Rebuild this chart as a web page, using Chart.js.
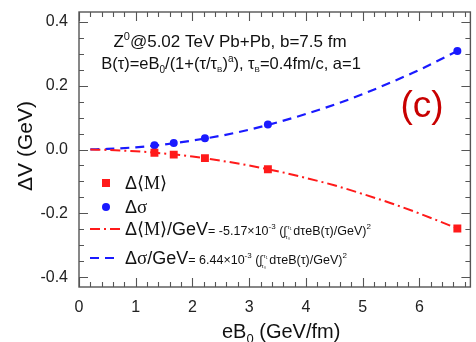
<!DOCTYPE html>
<html>
<head>
<meta charset="utf-8">
<script src="https://cdn.jsdelivr.net/npm/chart.js@4"></script>
<style>
html,body{margin:0;padding:0;background:#fff;}
#c{display:block;}
</style>
</head>
<body>
<canvas id="c" width="476" height="342"></canvas>
<script>
// ---- data ----
const eB0 = [1.33, 1.67, 2.22, 3.33, 6.67];
const deltaM = [-0.010, -0.016, -0.027, -0.062, -0.247];
const deltaSigma = [0.013, 0.020, 0.035, 0.078, 0.308];
const fitX = [0.2, 0.5, 1, 1.5, 2, 2.5, 3, 3.5, 4, 4.5, 5, 5.5, 6, 6.67];
const fitM = [-0.0002, -0.0014, -0.0056, -0.0125, -0.022, -0.035, -0.050, -0.068, -0.089, -0.112, -0.139, -0.168, -0.200, -0.247];
const fitSigma = [0.0003, 0.0017, 0.0069, 0.0156, 0.028, 0.043, 0.062, 0.085, 0.111, 0.140, 0.173, 0.210, 0.249, 0.308];
const xTicks = [0, 1, 2, 3, 4, 5, 6];
const yTicks = [-0.4, -0.2, 0.0, 0.2, 0.4];

const RED = '#ff1a1a';
const BLUE = '#1a1aff';
const SANS = '"Liberation Sans", Arial, sans-serif';
const SERIF = '"Liberation Serif", "DejaVu Serif", serif';

function pts(xs, ys) { return xs.map((x, i) => ({x: x, y: ys[i]})); }

function rich(ctx, x, y, segs, align, color) {
  let w = 0;
  for (const s of segs) {
    ctx.font = (s.b ? 'bold ' : '') + s.f + 'px ' + (s.fam || SANS);
    s.w = ctx.measureText(s.t).width;
    if (!s.noadv) w += s.w;
  }
  let cx = align === 'center' ? x - w / 2 : x;
  ctx.textBaseline = 'alphabetic';
  ctx.textAlign = 'left';
  for (const s of segs) {
    ctx.font = (s.b ? 'bold ' : '') + s.f + 'px ' + (s.fam || SANS);
    ctx.fillStyle = s.c || color || '#111';
    ctx.fillText(s.t, cx + (s.dx || 0), y + (s.dy || 0));
    if (!s.noadv) cx += s.w;
  }
  return w;
}

const decor = {
  id: 'decor',
  afterDraw(chart) {
    const ctx = chart.ctx;
    const xs = chart.scales.x, ys = chart.scales.y;
    const left = xs.left, right = xs.right, top = ys.top, bottom = ys.bottom;
    ctx.save();
    // frame
    ctx.strokeStyle = '#555';
    ctx.lineWidth = 1.4;
    ctx.strokeRect(left, top, right - left, bottom - top);
    // inward ticks
    ctx.lineWidth = 1.1;
    ctx.beginPath();
    for (let i = 0; i <= 35; i++) {
      const v = i * 0.2;
      const px = Math.round(xs.getPixelForValue(v)) + 0.5;
      if (px > right - 1) break;
      const len = (i % 5 === 0) ? 9 : 5;
      ctx.moveTo(px, bottom); ctx.lineTo(px, bottom - len);
      ctx.moveTo(px, top); ctx.lineTo(px, top + len);
    }
    for (let i = -8; i <= 8; i++) {
      const v = i * 0.05;
      const py = Math.round(ys.getPixelForValue(v)) + 0.5;
      const len = (i % 4 === 0) ? 9 : 5;
      ctx.moveTo(left, py); ctx.lineTo(left + len, py);
      ctx.moveTo(right, py); ctx.lineTo(right - len, py);
    }
    ctx.stroke();

    // axis titles
    ctx.fillStyle = '#111';
    rich(ctx, 222, 338, [
      {t: 'eB', f: 20}, {t: '0', f: 13, dy: 5}, {t: ' (GeV/fm)', f: 20}
    ], 'left');
    ctx.save();
    ctx.translate(32, 146);
    ctx.rotate(-Math.PI / 2);
    rich(ctx, 0, 0, [{t: '\u0394V (GeV)', f: 21}], 'center');
    ctx.restore();

    // annotation text
    rich(ctx, 230, 47, [
      {t: 'Z', f: 17}, {t: '0', f: 11, dy: -7}, {t: '@5.02 TeV Pb+Pb, b=7.5 fm', f: 17}
    ], 'center');
    rich(ctx, 231, 69, [
      {t: 'B(\u03c4)=eB', f: 16.5}, {t: '0', f: 10, dy: 4},
      {t: '/(1+(\u03c4/\u03c4', f: 16.5}, {t: 'B', f: 8, dy: 3},
      {t: ')', f: 16.5}, {t: 'a', f: 10, dy: -7}, {t: '), \u03c4', f: 16.5},
      {t: 'B', f: 8, dy: 3}, {t: '=0.4fm/c, a=1', f: 16.5}
    ], 'center');
    rich(ctx, 422, 117, [{t: '(c)', f: 37}], 'center', '#c80000');

    // legend
    const lx0 = 90, lx1 = 120, tx = 125;
    ctx.fillStyle = RED;
    ctx.fillRect(106 - 4, 183 - 4, 8, 8);
    ctx.fillStyle = BLUE;
    ctx.beginPath(); ctx.arc(106, 207, 4, 0, Math.PI * 2); ctx.fill();
    rich(ctx, tx, 189, [
      {t: '\u0394', f: 18}, {t: '\u27e8M\u27e9', f: 18, fam: SERIF}
    ], 'left');
    rich(ctx, tx, 213, [
      {t: '\u0394', f: 18}, {t: '\u03c3', f: 19, fam: SERIF}
    ], 'left');

    ctx.lineWidth = 2;
    ctx.strokeStyle = RED;
    ctx.setLineDash([10, 4, 2, 4]);
    ctx.beginPath(); ctx.moveTo(lx0, 229); ctx.lineTo(lx1, 229); ctx.stroke();
    ctx.strokeStyle = BLUE;
    ctx.setLineDash([9, 6]);
    ctx.beginPath(); ctx.moveTo(lx0, 258); ctx.lineTo(lx1, 258); ctx.stroke();
    ctx.setLineDash([]);

    const integ = [
      {t: '\u222b', f: 12, noadv: true},
      {t: '\u03c4\u2081', f: 6, dx: 4, dy: -6, noadv: true},
      {t: '\u03c4\u2080', f: 6, dx: 2, dy: 4, noadv: true},
      {t: '   ', f: 12}
    ];
    rich(ctx, tx, 235, [
      {t: '\u0394', f: 18}, {t: '\u27e8M\u27e9', f: 18, fam: SERIF}, {t: '/GeV', f: 18},
      {t: '= -5.17\u00d710', f: 12.5}, {t: '-3', f: 8, dy: -6},
      {t: ' (', f: 12.5}
    ].concat(integ).concat([
      {t: 'd\u03c4eB(\u03c4)/GeV)', f: 12.5}, {t: '2', f: 8, dy: -6}
    ]), 'left');
    rich(ctx, tx, 264, [
      {t: '\u0394', f: 18}, {t: '\u03c3', f: 19, fam: SERIF}, {t: '/GeV', f: 18},
      {t: '= 6.44\u00d710', f: 12.5}, {t: '-3', f: 8, dy: -6},
      {t: ' (', f: 12.5}
    ].concat(integ).concat([
      {t: 'd\u03c4eB(\u03c4)/GeV)', f: 12.5}, {t: '2', f: 8, dy: -6}
    ]), 'left');
    ctx.restore();
  }
};

new Chart(document.getElementById('c'), {
  type: 'scatter',
  data: {
    datasets: [
      {
        label: 'fitM', data: pts(fitX, fitM), showLine: true, pointRadius: 0,
        borderColor: RED, borderWidth: 2, borderDash: [10, 4, 2, 4],
        cubicInterpolationMode: 'monotone', fill: false
      },
      {
        label: 'fitSigma', data: pts(fitX, fitSigma), showLine: true, pointRadius: 0,
        borderColor: BLUE, borderWidth: 2.2, borderDash: [9, 6],
        cubicInterpolationMode: 'monotone', fill: false
      },
      {
        label: 'dM', data: pts(eB0, deltaM), showLine: false,
        pointStyle: 'rect', pointRadius: 5.6, backgroundColor: RED, borderWidth: 0
      },
      {
        label: 'dSigma', data: pts(eB0, deltaSigma), showLine: false,
        pointStyle: 'circle', pointRadius: 4, backgroundColor: BLUE, borderWidth: 0
      }
    ]
  },
  options: {
    responsive: false,
    animation: false,
    layout: {padding: {top: 12, right: 4, left: 0, bottom: 0}},
    plugins: {legend: {display: false}, tooltip: {enabled: false}},
    scales: {
      x: {
        type: 'linear', min: 0, max: 6.9,
        afterFit: s => { s.height = 55; s.paddingLeft = 0; s.paddingRight = 0; },
        afterBuildTicks: s => { s.ticks = xTicks.map(v => ({value: v})); },
        grid: {display: false, drawTicks: false},
        border: {display: false},
        ticks: {padding: 11, color: '#222', font: {size: 16, family: SANS},
                callback: v => String(v), maxRotation: 0, autoSkip: false}
      },
      y: {
        type: 'linear', min: -0.43, max: 0.43,
        afterFit: s => { s.width = 79; s.paddingTop = 0; s.paddingBottom = 0; },
        afterBuildTicks: s => { s.ticks = yTicks.map(v => ({value: v})); },
        grid: {display: false, drawTicks: false},
        border: {display: false},
        ticks: {padding: 11, color: '#222', font: {size: 16, family: SANS},
                callback: v => Number(v).toFixed(1), autoSkip: false}
      }
    }
  },
  plugins: [decor]
});
</script>
</body>
</html>
